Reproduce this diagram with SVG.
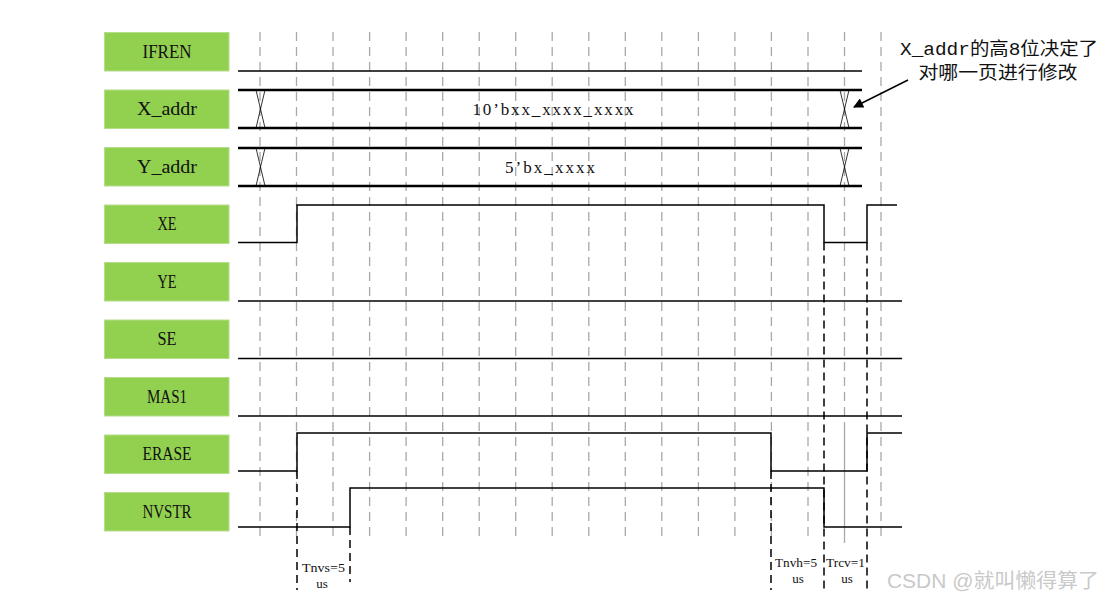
<svg xmlns="http://www.w3.org/2000/svg" width="1105" height="602" viewBox="0 0 1105 602">
<style>
.box{fill:#92D050;stroke:#b5dd8c;stroke-width:1}
.lbl{font-family:"Liberation Serif","Noto Sans CJK SC",serif;font-size:19.5px;fill:#111;text-anchor:middle}
.grid{stroke:#a8a8a8;stroke-width:1.3;stroke-dasharray:9 6;fill:none}
.sig{stroke:#000;stroke-width:1.5;fill:none}
.bus{stroke:#000;stroke-width:2.5;fill:none}
.x{stroke:#000;stroke-width:0.8;fill:none}
.bd{stroke:#000;stroke-width:1.5;stroke-dasharray:8 5;fill:none}
.val{font-family:"Liberation Serif","Noto Sans CJK SC",serif;font-size:17px;fill:#111;text-anchor:middle}
.t{font-family:"Liberation Serif",serif;font-size:13px;fill:#111}
.ann{font-family:"Liberation Mono","Noto Sans CJK SC",monospace;font-size:18px;fill:#111;text-anchor:middle}
</style>
<defs>
<marker id="ah" viewBox="0 0 10 10" refX="9" refY="5" markerWidth="12" markerHeight="10" markerUnits="userSpaceOnUse" orient="auto">
<path d="M0,0 L10,5 L0,10 z" fill="#000"/>
</marker>
</defs>
<rect width="1105" height="602" fill="#fff"/>
<g id="grid">
<line class="grid" x1="260" y1="32" x2="260" y2="540"/>
<line class="grid" x1="296.5" y1="32" x2="296.5" y2="540"/>
<line class="grid" x1="333" y1="32" x2="333" y2="540"/>
<line class="grid" x1="369.6" y1="32" x2="369.6" y2="540"/>
<line class="grid" x1="406.1" y1="32" x2="406.1" y2="540"/>
<line class="grid" x1="442.7" y1="32" x2="442.7" y2="540"/>
<line class="grid" x1="479.2" y1="32" x2="479.2" y2="540"/>
<line class="grid" x1="515.7" y1="32" x2="515.7" y2="540"/>
<line class="grid" x1="552.2" y1="32" x2="552.2" y2="540"/>
<line class="grid" x1="588.8" y1="32" x2="588.8" y2="540"/>
<line class="grid" x1="625.3" y1="32" x2="625.3" y2="540"/>
<line class="grid" x1="661.8" y1="32" x2="661.8" y2="540"/>
<line class="grid" x1="698.4" y1="32" x2="698.4" y2="540"/>
<line class="grid" x1="734.9" y1="32" x2="734.9" y2="540"/>
<line class="grid" x1="771.4" y1="32" x2="771.4" y2="540"/>
<line class="grid" x1="808" y1="32" x2="808" y2="540"/>
<line class="grid" x1="844.5" y1="32" x2="844.5" y2="430"/>
<line x1="844.5" y1="430" x2="844.5" y2="543" stroke="#a8a8a8" stroke-width="1.3"/>
<line class="grid" x1="881" y1="32" x2="881" y2="540"/>
</g>
<g id="IFREN"><rect class="box" x="104.5" y="32.5" width="124.5" height="38.5"/><text class="lbl" x="167" y="57.5" textLength="49" lengthAdjust="spacingAndGlyphs">IFREN</text></g>
<g id="X_addr"><rect class="box" x="104.5" y="90" width="124.5" height="38.5"/><text class="lbl" x="167" y="115" textLength="60" lengthAdjust="spacingAndGlyphs">X_addr</text></g>
<g id="Y_addr"><rect class="box" x="104.5" y="147.5" width="124.5" height="38.5"/><text class="lbl" x="167" y="172.5" textLength="60" lengthAdjust="spacingAndGlyphs">Y_addr</text></g>
<g id="XE"><rect class="box" x="104.5" y="205" width="124.5" height="38.5"/><text class="lbl" x="167" y="230" textLength="19" lengthAdjust="spacingAndGlyphs">XE</text></g>
<g id="YE"><rect class="box" x="104.5" y="262.5" width="124.5" height="38.5"/><text class="lbl" x="167" y="287.5" textLength="19" lengthAdjust="spacingAndGlyphs">YE</text></g>
<g id="SE"><rect class="box" x="104.5" y="320" width="124.5" height="38.5"/><text class="lbl" x="167" y="345" textLength="19" lengthAdjust="spacingAndGlyphs">SE</text></g>
<g id="MAS1"><rect class="box" x="104.5" y="377.5" width="124.5" height="38.5"/><text class="lbl" x="167" y="402.5" textLength="40" lengthAdjust="spacingAndGlyphs">MAS1</text></g>
<g id="ERASE"><rect class="box" x="104.5" y="435" width="124.5" height="38.5"/><text class="lbl" x="167" y="460" textLength="49" lengthAdjust="spacingAndGlyphs">ERASE</text></g>
<g id="NVSTR"><rect class="box" x="104.5" y="492.5" width="124.5" height="38.5"/><text class="lbl" x="167" y="517.5" textLength="49" lengthAdjust="spacingAndGlyphs">NVSTR</text></g>
<g id="waveforms">
<line class="sig" x1="238" y1="71" x2="862" y2="71"/>
<line class="bus" x1="238" y1="90" x2="862" y2="90"/>
<line class="bus" x1="238" y1="128" x2="862" y2="128"/>
<path class="x" d="M256,90 L265,128 M265,90 L256,128 M840,90 L849,128 M849,90 L840,128"/>
<text class="val" x="553" y="115" textLength="161" lengthAdjust="spacing">10’bxx_xxxx_xxxx</text>
<line class="bus" x1="238" y1="148" x2="862" y2="148"/>
<line class="bus" x1="238" y1="186" x2="862" y2="186"/>
<path class="x" d="M256,148 L265,186 M265,148 L256,186 M840,148 L849,186 M849,148 L840,186"/>
<text class="val" x="550" y="173" textLength="90" lengthAdjust="spacing">5’bx_xxxx</text>
<polyline class="sig" points="238,242.5 297,242.5 297,205 824,205 824,242.5 867,242.5 867,205 897,205"/>
<line class="sig" x1="238" y1="301" x2="902" y2="301"/>
<line class="sig" x1="238" y1="358.5" x2="902" y2="358.5"/>
<line class="sig" x1="238" y1="416" x2="902" y2="416"/>
<polyline class="sig" points="238,471 297,471 297,433 771,433 771,471 867,471 867,433 902,433"/>
<polyline class="sig" points="238,527 350,527 350,488 824,488 824,527 902,527"/>
</g>
<g id="timing">
<line class="bd" x1="297" y1="471" x2="297" y2="590"/>
<line class="bd" x1="350" y1="527" x2="350" y2="582"/>
<line class="bd" x1="771" y1="471" x2="771" y2="590"/>
<line class="bd" x1="824" y1="242.5" x2="824" y2="590"/>
<line class="bd" x1="867" y1="242.5" x2="867" y2="590"/>
<text class="t" x="302" y="572" textLength="43" lengthAdjust="spacingAndGlyphs">Tnvs=5</text>
<text class="t" x="322" y="588" text-anchor="middle">us</text>
<text class="t" x="775" y="567" textLength="42" lengthAdjust="spacingAndGlyphs">Tnvh=5</text>
<text class="t" x="798" y="583" text-anchor="middle">us</text>
<text class="t" x="826" y="567" textLength="39" lengthAdjust="spacingAndGlyphs">Trcv=1</text>
<text class="t" x="847" y="583" text-anchor="middle">us</text>
</g>
<g id="annotation">
<text class="ann" x="999" y="55" textLength="198" lengthAdjust="spacingAndGlyphs">X_addr的高8位决定了</text>
<text class="ann" x="998" y="79" textLength="159" lengthAdjust="spacingAndGlyphs">对哪一页进行修改</text>
<line x1="908" y1="80" x2="854" y2="107" stroke="#000" stroke-width="1.5" marker-end="url(#ah)"/>
</g>
<text x="887" y="588" font-family="Liberation Sans,'Noto Sans CJK SC',sans-serif" font-size="20" fill="#c9c9c9" textLength="212" lengthAdjust="spacingAndGlyphs">CSDN @就叫懒得算了</text>
</svg>
